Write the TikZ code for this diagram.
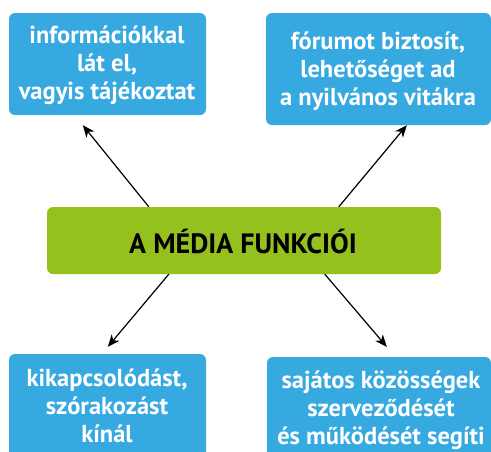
\documentclass[tikz,border=0pt]{standalone}
\usepackage{fontspec}
\setmainfont{PT Sans}
\usetikzlibrary{arrows.meta,calc}
\definecolor{boxblue}{HTML}{36A9E1}
\definecolor{boxgreen}{HTML}{95C11F}
\begin{document}
\begin{tikzpicture}[x=1pt,y=-1pt,
  bluebox/.style={fill=boxblue,rounded corners=6pt,draw=none,inner sep=0pt},
  bluetext/.style={text=white,font=\bfseries\fontsize{24.5}{28}\selectfont,align=center,inner sep=0pt},
  greenbox/.style={fill=boxgreen,rounded corners=6pt,draw=none,inner sep=0pt},
  arr/.style={line width=1.2pt,-{Stealth[length=12pt,width=10pt,inset=3.5pt]}}]
\useasboundingbox (0,0) rectangle (491,451);
\clip (0,0) rectangle (491,451);
\node[bluebox,minimum width=197pt,minimum height=102pt] (tl) at (107.5,64) {};
\node[bluetext] (tlt) at (107,65)
  {információkkal\\lát el,\\vagyis tájékoztat};
\node[bluebox,minimum width=225pt,minimum height=112pt] (tr) at (378.5,69) {};
\node[bluetext] (trt) at (378,71)
  {fórumot biztosít,\\lehetőséget ad\\a nyilvános vitákra};
\node[bluebox,minimum width=197pt,minimum height=120pt] (bl) at (107.5,414) {};
\node[bluetext] (blt) at (107,406)
  {kikapcsolódást,\\szórakozást\\kínál};
\node[bluebox,minimum width=224pt,minimum height=120pt] (br) at (379,417) {};
\node[bluetext] (brt) at (381,410)
  {sajátos közösségek\\szerveződését\\és működését segíti};
\node[greenbox,minimum width=394pt,minimum height=67pt] (c) at (244,240.5) {};
\node[font=\bfseries\fontsize{28}{28}\selectfont,inner sep=0pt] (ct) at (243,242) {A MÉDIA FUNKCIÓI};
\draw[arr] ([xshift=102pt]c.north west) -- ([xshift=74pt,yshift=-10pt]tl.south west);
\draw[arr] ([xshift=292pt]c.north west) -- ([xshift=141pt,yshift=-0pt]tr.south west);
\draw[arr] ([xshift=122pt]c.south west) -- ([xshift=99pt,yshift=7pt]bl.north west);
\draw[arr] ([xshift=278pt]c.south west) -- ([xshift=120pt,yshift=10pt]br.north west);
\end{tikzpicture}
\end{document}
